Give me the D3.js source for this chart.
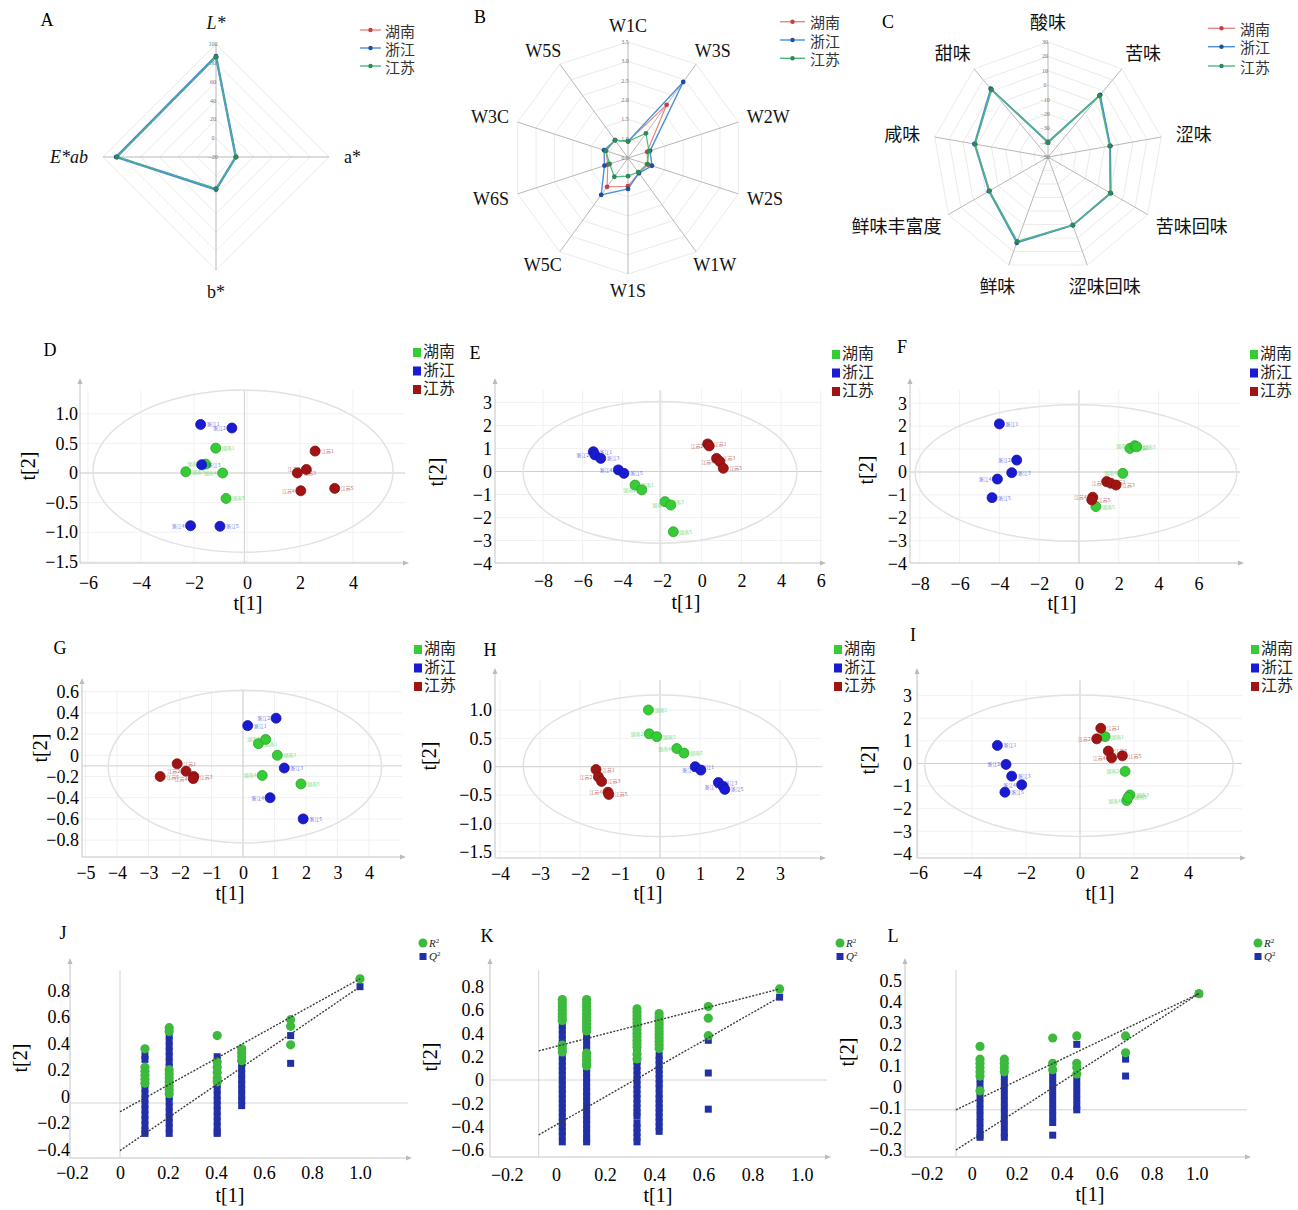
<!DOCTYPE html>
<html>
<head>
<meta charset="utf-8">
<script src="https://cdn.jsdelivr.net/npm/d3@7"></script>
<style>
  body { margin: 0; background: #fff; }
  svg text { font-family: "Liberation Serif", "Times New Roman", serif; }
</style>
</head>
<body>
<svg id="fig" width="1298" height="1210"></svg>
<script>
// ---------- data ----------
const regions = ["湖南", "浙江", "江苏"];

// A: colour values (clockwise from top)
const colorAxes = ["L*", "a*", "b*", "E*ab"];
const colorTicks = [-20, 0, 20, 40, 60, 80, 100];
const colorHunan = [86, 1.5, 14, 85];
const colorZhejiang = [87, 1, 14.5, 86];
const colorJiangsu = [86, 1.2, 13.5, 85];

// B: electronic nose sensors
const noseAxes = ["W1C", "W3S", "W2W", "W2S", "W1W", "W1S", "W5C", "W6S", "W3C", "W5S"];
const noseTicks = [0.5, 1.0, 1.5, 2.0, 2.5, 3.0, 3.5];
const noseHunan = [0.93, 2.2, 1.02, 1.05, 0.98, 1.23, 1.42, 1.05, 1.1, 1.07];
const noseZhejiang = [0.93, 2.93, 1.1, 1.15, 0.98, 1.3, 1.68, 1.14, 1.15, 1.07];
const noseJiangsu = [0.93, 1.29, 1.07, 1.02, 0.95, 0.97, 1.1, 1.0, 1.1, 1.07];

// C: electronic tongue
const tasteAxes = ["酸味", "苦味", "涩味", "苦味回味", "涩味回味", "鲜味", "鲜味丰富度", "咸味", "甜味"];
const tasteTicks = [-50, -40, -30, -20, -10, 0, 10, 20, 30];
const tasteHunan = [-40, 6, -6, 0, 0.5, 13, -3, 1.5, 11.5];
const tasteZhejiang = [-39.5, 6.5, -6, 0.5, 0.6, 13.5, -2.5, 2, 12];
const tasteJiangsu = [-40, 5.5, -6.5, 0, 0.3, 12.5, -3, 1.5, 11];

// D-I: score plots [t1, t2]
const dHunan = [[-1.18, 0.42], [-1.56, 0.15], [-2.31, 0.02], [-0.92, 0.0], [-0.79, -0.43]];
const dZhejiang = [[-1.75, 0.82], [-0.57, 0.76], [-1.71, 0.14], [-2.13, -0.89], [-1.02, -0.9]];
const dJiangsu = [[2.57, 0.37], [2.24, 0.06], [1.9, 0.0], [2.03, -0.3], [3.31, -0.26]];

const eHunan = [[-3.36, -0.59], [-3.02, -0.8], [-1.85, -1.31], [-1.56, -1.46], [-1.43, -2.62]];
const eZhejiang = [[-5.46, 0.86], [-5.38, 0.72], [-5.09, 0.57], [-4.2, 0.07], [-3.92, -0.08]];
const eJiangsu = [[0.3, 1.2], [0.38, 1.11], [0.75, 0.57], [0.92, 0.43], [1.09, 0.14]];

const fHunan = [[2.56, 1.03], [2.8, 1.15], [2.9, 1.1], [2.2, -0.06], [0.85, -1.51]];
const fZhejiang = [[-4.0, 2.1], [-3.13, 0.52], [-3.38, -0.03], [-4.1, -0.31], [-4.37, -1.12]];
const fJiangsu = [[1.39, -0.42], [1.59, -0.49], [1.86, -0.57], [0.69, -1.1], [0.64, -1.22]];

const gHunan = [[0.49, 0.11], [0.72, 0.15], [1.09, 0.0], [0.61, -0.19], [1.84, -0.27]];
const gZhejiang = [[0.15, 0.28], [1.05, 0.35], [1.31, -0.12], [0.86, -0.4], [1.91, -0.6]];
const gJiangsu = [[-2.09, -0.08], [-1.81, -0.15], [-1.56, -0.2], [-1.58, -0.22], [-2.63, -0.2]];

const hHunan = [[-0.29, 1.0], [-0.27, 0.58], [-0.08, 0.53], [0.42, 0.32], [0.6, 0.24]];
const hZhejiang = [[0.88, 0.0], [1.02, -0.06], [1.46, -0.28], [1.58, -0.35], [1.62, -0.4]];
const hJiangsu = [[-1.6, -0.05], [-1.54, -0.18], [-1.46, -0.26], [-1.3, -0.45], [-1.28, -0.49]];

const iHunan = [[0.93, 1.19], [1.67, -0.35], [1.85, -1.39], [1.73, -1.64], [1.78, -1.5]];
const iZhejiang = [[-3.06, 0.8], [-2.74, -0.04], [-2.53, -0.56], [-2.16, -0.94], [-2.78, -1.27]];
const iJiangsu = [[0.77, 1.56], [0.62, 1.09], [1.05, 0.55], [1.17, 0.25], [1.57, 0.34]];

const ticks8to6 = [-8, -6, -4, -2, 0, 2, 4, 6];
const ticks3toM4 = [3, 2, 1, 0, -1, -2, -3, -4];
const ticksHalf = [1.0, 0.5, 0, -0.5, -1.0, -1.5];

// J-L: permutation tests
const permXTicks = [-0.2, 0, 0.2, 0.4, 0.6, 0.8, 1.0];

const jX = [0.104, 0.205, 0.405, 0.507, 0.711, 1.0];
const jR2 = [[0.36, 0.22, 0.19, 0.16, 0.13, 0.1], [0.52, 0.49, 0.2, 0.17, 0.14, 0.11, 0.08, 0.05, 0.02],
  [0.46, 0.26, 0.22, 0.18, 0.14, 0.11], [0.36, 0.33, 0.3, 0.27], [0.58, 0.53, 0.39], [0.89]];
const jQ2 = [[0.31, 0.28, 0.2, 0.17, 0.14, 0.1, 0.06, 0.02, -0.02, -0.06, -0.1, -0.14, -0.18, -0.22, -0.26, -0.28],
  [0.46, 0.42, 0.38, 0.34, 0.3, 0.26, 0.22, 0.18, 0.1, 0.04, 0, -0.04, -0.08, -0.12, -0.16, -0.2, -0.24, -0.28],
  [0.3, 0.27, 0.24, 0.09, 0.05, 0.01, -0.03, -0.07, -0.11, -0.15, -0.19, -0.23, -0.27, -0.28],
  [0.25, 0.21, 0.17, 0.13, 0.09, 0.05, 0.01, -0.03, -0.07], [0.46, 0.25], [0.83]];
const jR2Line = [[0, -0.116], [1.0, 0.89]];
const jQ2Line = [[0, -0.41], [1.0, 0.83]];
const jYTicks = [0.8, 0.6, 0.4, 0.2, 0, -0.2, -0.4];

const kX = [0.026, 0.125, 0.33, 0.42, 0.62, 0.91];
const kR2 = [[0.69, 0.66, 0.63, 0.6, 0.57, 0.54, 0.51, 0.3, 0.27, 0.24],
  [0.69, 0.66, 0.63, 0.6, 0.57, 0.54, 0.51, 0.48, 0.45, 0.42, 0.23, 0.2, 0.17, 0.14, 0.12],
  [0.61, 0.58, 0.55, 0.52, 0.49, 0.46, 0.43, 0.4, 0.37, 0.34, 0.31, 0.28, 0.22, 0.18],
  [0.57, 0.54, 0.51, 0.48, 0.45, 0.42, 0.39, 0.36, 0.33, 0.3, 0.27], [0.63, 0.53, 0.38], [0.78]];
const kQ2 = [[0.47, 0.43, 0.39, 0.35, 0.31, 0.2, 0.16, 0.12, 0.08, 0.04, 0, -0.04, -0.08, -0.12, -0.16, -0.2, -0.24, -0.28, -0.32, -0.36, -0.4, -0.44, -0.48, -0.53],
  [0.38, 0.34, 0.3, 0.26, 0.1, 0.06, 0.02, -0.02, -0.06, -0.1, -0.14, -0.18, -0.22, -0.26, -0.3, -0.34, -0.38, -0.42, -0.46, -0.5, -0.53],
  [0.28, 0.25, 0.16, 0.12, 0.08, 0.04, 0, -0.04, -0.08, -0.12, -0.16, -0.2, -0.24, -0.28, -0.31, -0.37, -0.41, -0.45, -0.49, -0.53],
  [0.21, 0.17, 0.13, 0.09, 0.05, 0.01, -0.03, -0.07, -0.12, -0.16, -0.2, -0.24, -0.28, -0.32, -0.36, -0.4, -0.44],
  [0.34, 0.06, -0.25], [0.71]];
const kR2Line = [[-0.07, 0.25], [0.91, 0.78]];
const kQ2Line = [[-0.07, -0.47], [0.91, 0.71]];
const kYTicks = [0.8, 0.6, 0.4, 0.2, 0, -0.2, -0.4, -0.6];

const lX = [0.037, 0.145, 0.36, 0.467, 0.684, 1.01];
const lR2 = [[0.19, 0.13, 0.11, 0.09, 0.07, 0.05, -0.02], [0.13, 0.11, 0.09, 0.07], [0.23, 0.11, 0.08],
  [0.24, 0.11, 0.09, 0.06], [0.24, 0.16], [0.44]];
const lQ2 = [[0.04, 0.01, -0.02, -0.05, -0.08, -0.11, -0.14, -0.17, -0.2, -0.23, -0.24],
  [0.05, 0.02, -0.01, -0.04, -0.07, -0.1, -0.13, -0.16, -0.19, -0.22, -0.24],
  [0.07, 0.04, 0.01, -0.02, -0.05, -0.08, -0.11, -0.14, -0.17, -0.23],
  [0.2, 0.03, 0, -0.03, -0.06, -0.09, -0.11], [0.13, 0.05], [0.44]];
const lR2Line = [[-0.07, -0.11], [1.01, 0.44]];
const lQ2Line = [[-0.07, -0.3], [1.01, 0.44]];
const lYTicks = [0.5, 0.4, 0.3, 0.2, 0.1, 0, -0.1, -0.2, -0.3];

// ---------- drawing ----------
const CJK = "'Noto Sans CJK SC','Noto Sans CJK JP',sans-serif";
const svg = d3.select("#fig");

const radarLine = ["#e88484", "#4a8fd8", "#4cb87e"];
const radarDot = ["#c73f3f", "#1f4f9c", "#2c8a55"];
const pcaColor = ["#35cc35", "#1a1ad2", "#a11414"];

const fmt1 = d => d === 0 ? "0" : d3.format(".1f")(d);
const fmtInt = d => d3.format("d")(d);

function letter(t, x, y) {
  svg.append("text").attr("x", x).attr("y", y).attr("text-anchor", "middle")
    .attr("dominant-baseline", "central").attr("font-size", 18).text(t);
}

function radar(c) {
  const g = svg.append("g");
  const n = c.axes.length;
  const r = d3.scaleLinear().domain([c.ticks[0], c.ticks[c.ticks.length - 1]]).range([0, c.R]);
  const ang = i => i * 2 * Math.PI / n;
  const pt = (v, i) => [c.cx + r(v) * Math.sin(ang(i)), c.cy - r(v) * Math.cos(ang(i))];
  const top = c.ticks[c.ticks.length - 1];

  c.ticks.slice(1).forEach(t => {
    g.append("polygon").attr("points", d3.range(n).map(i => pt(t, i).join(",")).join(" "))
      .attr("fill", "none").attr("stroke", "#ebebeb");
  });
  d3.range(n).forEach(i => {
    const p = pt(top, i);
    g.append("line").attr("x1", c.cx).attr("y1", c.cy).attr("x2", p[0]).attr("y2", p[1])
      .attr("stroke", "#b8b8b8").attr("stroke-width", 1);
  });
  g.selectAll(".tk").data(c.ticks).join("text")
    .attr("x", c.cx - 3).attr("y", d => c.cy - r(d))
    .attr("font-size", 6).attr("fill", "#777").attr("text-anchor", "middle")
    .attr("dominant-baseline", "central").text(c.tickFmt);

  const line = d3.line().curve(d3.curveLinearClosed);
  c.series.forEach((s, k) => {
    g.append("path").attr("d", line(s.map((v, i) => pt(v, i))))
      .attr("fill", "none").attr("stroke", radarLine[k])
      .attr("stroke-width", c.widths[k]).attr("stroke-dasharray", c.dash[k]);
    g.selectAll(null).data(s).join("circle")
      .attr("cx", (v, i) => pt(v, i)[0]).attr("cy", (v, i) => pt(v, i)[1])
      .attr("r", 2.4).attr("fill", radarDot[k]);
  });

  c.axes.forEach((lab, i) => {
    const sx = Math.sin(ang(i)), sy = -Math.cos(ang(i));
    const t = g.append("text").attr("text-anchor", "middle").attr("dominant-baseline", "central")
      .attr("font-size", 18).attr("fill", "#111")
      .style("font-family", c.cjk ? CJK : null)
      .attr("font-style", c.italic && c.italic[i] ? "italic" : null).text(lab);
    const w = t.node().getComputedTextLength(), h = 13;
    t.attr("x", c.cx + sx * (c.labelR + w / 2)).attr("y", c.cy + sy * (c.labelR + h / 2));
  });

  regions.forEach((name, k) => {
    const y = c.leg.y[k];
    g.append("line").attr("x1", c.leg.x1).attr("x2", c.leg.x2).attr("y1", y).attr("y2", y)
      .attr("stroke", radarLine[k]).attr("stroke-width", 1.4);
    g.append("circle").attr("cx", (c.leg.x1 + c.leg.x2) / 2).attr("cy", y).attr("r", 2.2).attr("fill", radarDot[k]);
    g.append("text").attr("x", c.leg.tx).attr("y", y).attr("dominant-baseline", "central")
      .style("font-family", CJK).attr("font-size", 15).attr("fill", "#333").text(name);
  });
  letter(c.letter, c.letterPos[0], c.letterPos[1]);
}

function frameAxes(g, c) {
  const [L, T, R, B] = c.frame;
  g.append("line").attr("x1", L).attr("x2", L).attr("y1", T - 8).attr("y2", B).attr("stroke", "#c4c4c4");
  g.append("line").attr("x1", L).attr("x2", R).attr("y1", B).attr("y2", B).attr("stroke", "#c4c4c4");
  g.append("path").attr("d", `M${L},${T - 12}l-2.5,6h5z`).attr("fill", "#bbb");
  g.append("path").attr("d", `M${R + 4},${B}l-6,-2.5v5z`).attr("fill", "#bbb");
}

function scales(c) {
  const x = d3.scaleLinear().domain([0, 1]).range([c.x0, c.x0 + c.kx]);
  const y = d3.scaleLinear().domain([0, 1]).range([c.y0, c.y0 - c.ky]);
  return [x, y];
}

function tickAxes(g, c, x, y) {
  g.append("g").attr("transform", `translate(${c.yLabelRight},0)`)
    .call(d3.axisLeft(y).tickValues(c.yt).tickFormat(c.fmtY).tickSize(0).tickPadding(0))
    .call(a => a.select(".domain").remove())
    .attr("font-size", 18);
  g.append("g").attr("transform", `translate(0,${c.xLabelY - 7})`)
    .call(d3.axisBottom(x).tickValues(c.xt).tickFormat(c.fmtX).tickSize(0).tickPadding(0))
    .call(a => a.select(".domain").remove())
    .attr("font-size", 18);
  g.append("text").attr("x", c.t1[0]).attr("y", c.t1[1]).attr("text-anchor", "middle")
    .attr("dominant-baseline", "central").attr("font-size", 20).text("t[1]");
  g.append("text").attr("transform", `translate(${c.t2[0]},${c.t2[1]}) rotate(-90)`)
    .attr("text-anchor", "middle").attr("dominant-baseline", "central").attr("font-size", 20).text("t[2]");
  letter(c.letter, c.letterPos[0], c.letterPos[1]);
}

function scorePlot(c, groups) {
  const g = svg.append("g");
  const [x, y] = scales(c);
  const [L, T, R, B] = c.frame;
  g.selectAll(".gx").data(c.xt.filter(d => x(d) > L && x(d) < R)).join("line")
    .attr("x1", d => x(d)).attr("x2", d => x(d)).attr("y1", T).attr("y2", B).attr("stroke", "#f1f1f1");
  g.selectAll(".gy").data(c.yt.filter(d => y(d) > T && y(d) < B)).join("line")
    .attr("x1", L).attr("x2", R).attr("y1", d => y(d)).attr("y2", d => y(d)).attr("stroke", "#f1f1f1");
  frameAxes(g, c);
  g.append("line").attr("x1", x(c.origin[0])).attr("x2", x(c.origin[0])).attr("y1", T).attr("y2", B).attr("stroke", "#cfcfcf");
  g.append("line").attr("x1", L).attr("x2", R).attr("y1", y(c.origin[1])).attr("y2", y(c.origin[1])).attr("stroke", "#cfcfcf");
  const e = c.ellipse;
  g.append("ellipse").attr("cx", x(e[0])).attr("cy", y(e[1]))
    .attr("rx", x(e[2]) - x(0)).attr("ry", y(0) - y(e[3]))
    .attr("fill", "none").attr("stroke", "#e2e2e2").attr("stroke-width", 1.5);

  groups.forEach((pts, k) => {
    // tiny sample labels, alternating sides as in the original
    g.selectAll(null).data(pts).join("text")
      .attr("x", (d, i) => x(d[0]) + (i % 2 ? -6 : 6)).attr("y", d => y(d[1]) + 2)
      .attr("text-anchor", (d, i) => i % 2 ? "end" : "start")
      .attr("font-size", 5).style("font-family", CJK).attr("fill", pcaColor[k]).attr("opacity", 0.65)
      .text((d, i) => regions[k] + (i + 1));
    g.selectAll(null).data(pts).join("circle")
      .attr("cx", d => x(d[0])).attr("cy", d => y(d[1])).attr("r", 5)
      .attr("fill", pcaColor[k]).attr("stroke", d3.color(pcaColor[k]).darker(0.6)).attr("stroke-width", 0.8);
  });

  regions.forEach((name, k) => {
    const yy = c.leg[1] + k * 18.5;
    g.append("rect").attr("x", c.leg[0]).attr("y", yy - 2).attr("width", 8).attr("height", 9).attr("fill", pcaColor[k]);
    g.append("text").attr("x", c.leg[0] + 10).attr("y", yy).attr("dominant-baseline", "central")
      .style("font-family", CJK).attr("font-size", 16).attr("fill", "#222").text(name);
  });
  tickAxes(g, c, x, y);
}

function permPlot(c, xs, r2, q2, r2Line, q2Line) {
  const g = svg.append("g");
  const [x, y] = scales(c);
  const [L, T, R, B] = c.frame;
  frameAxes(g, c);
  g.append("line").attr("x1", x(c.origin[0])).attr("x2", x(c.origin[0])).attr("y1", T).attr("y2", B).attr("stroke", "#d4d4d4");
  g.append("line").attr("x1", L).attr("x2", R).attr("y1", y(c.origin[1])).attr("y2", y(c.origin[1])).attr("stroke", "#d4d4d4");

  const sq = 7;
  xs.forEach((xv, i) => {
    g.selectAll(null).data(q2[i]).join("rect")
      .attr("x", x(xv) - sq / 2).attr("y", d => y(d) - sq / 2).attr("width", sq).attr("height", sq)
      .attr("fill", "#2230a8");
    g.selectAll(null).data(r2[i]).join("circle")
      .attr("cx", x(xv)).attr("cy", d => y(d)).attr("r", 4.6).attr("fill", "#3dba3d");
  });
  const line = d3.line().x(d => x(d[0])).y(d => y(d[1]));
  [r2Line, q2Line].forEach(l => {
    g.append("path").attr("d", line(l)).attr("fill", "none").attr("stroke", "#3a3a3a")
      .attr("stroke-width", 1.4).attr("stroke-dasharray", "2,1.5");
  });

  g.append("circle").attr("cx", c.leg[0]).attr("cy", c.leg[1]).attr("r", 4.5).attr("fill", "#3dba3d");
  g.append("rect").attr("x", c.leg[0] - 3.5).attr("y", c.leg[1] + 10).attr("width", 7).attr("height", 7).attr("fill", "#2230a8");
  [["R", 0], ["Q", 13]].forEach(([s, dy]) => {
    const t = g.append("text").attr("x", c.leg[0] + 6).attr("y", c.leg[1] + dy + 4)
      .attr("font-size", 11).attr("font-style", "italic").attr("fill", "#222").text(s);
    t.append("tspan").attr("font-size", 7).attr("font-style", "normal").attr("dy", -4).text("2");
  });
  tickAxes(g, c, x, y);
}

// ---------- panels ----------
radar({ letter: "A", letterPos: [47, 20], cx: 216, cy: 157, R: 113, axes: colorAxes, ticks: colorTicks,
  tickFmt: fmtInt, series: [colorHunan, colorZhejiang, colorJiangsu], widths: [1.2, 2.4, 1.5],
  dash: [null, null, "4,2"], labelR: 128, italic: [true, false, false, true],
  leg: { x1: 360, x2: 381, tx: 385, y: [30, 48, 66] } });

radar({ letter: "B", letterPos: [480, 17], cx: 628, cy: 158, R: 116, axes: noseAxes, ticks: noseTicks,
  tickFmt: d3.format(".1f"), series: [noseHunan, noseZhejiang, noseJiangsu], widths: [1.2, 1.4, 1.2],
  dash: [null, null, null], labelR: 126,
  leg: { x1: 780, x2: 805, tx: 810, y: [21.7, 40, 58.3] } });

radar({ letter: "C", letterPos: [888, 22], cx: 1048, cy: 157, R: 115, axes: tasteAxes, ticks: tasteTicks,
  tickFmt: fmtInt, series: [tasteHunan, tasteZhejiang, tasteJiangsu], widths: [1.4, 1.6, 1.4],
  dash: [null, null, null], labelR: 130, cjk: true,
  leg: { x1: 1208, x2: 1235, tx: 1240, y: [28.3, 46.7, 66] } });

scorePlot({ letter: "D", letterPos: [50, 350], frame: [80, 390, 405, 563],
  x0: 247, kx: 26.5, y0: 473, ky: 59.2, yLabelRight: 78, xLabelY: 583,
  xt: [-6, -4, -2, 0, 2, 4], yt: ticksHalf, fmtX: fmtInt, fmtY: fmt1,
  origin: [-0.1, 0], ellipse: [-0.15, 0.03, 5.66, 1.37], leg: [413, 350], t1: [248, 603], t2: [28, 466] },
  [dHunan, dZhejiang, dJiangsu]);

scorePlot({ letter: "E", letterPos: [475, 353], frame: [495, 390, 822, 563],
  x0: 701.7, kx: 19.84, y0: 471.5, ky: 23, yLabelRight: 492, xLabelY: 581,
  xt: ticks8to6, yt: ticks3toM4, fmtX: fmtInt, fmtY: fmtInt,
  origin: [-2.1, 0], ellipse: [-2.1, -0.04, 6.9, 3.08], leg: [832, 352], t1: [686, 602], t2: [436, 472] },
  [eHunan, eZhejiang, eJiangsu]);

scorePlot({ letter: "F", letterPos: [902, 347], frame: [910, 390, 1240, 563],
  x0: 1079, kx: 19.9, y0: 472, ky: 22.9, yLabelRight: 907, xLabelY: 584,
  xt: ticks8to6, yt: ticks3toM4, fmtX: fmtInt, fmtY: fmtInt,
  origin: [0, 0], ellipse: [-0.15, -0.04, 8.08, 2.98], leg: [1250, 352], t1: [1062, 603], t2: [866, 470] },
  [fHunan, fZhejiang, fJiangsu]);

scorePlot({ letter: "G", letterPos: [60, 648], frame: [82, 690, 402, 857],
  x0: 243, kx: 31.5, y0: 755.3, ky: 106, yLabelRight: 79, xLabelY: 873,
  xt: [-5, -4, -3, -2, -1, 0, 1, 2, 3, 4], yt: [0.6, 0.4, 0.2, 0, -0.2, -0.4, -0.6, -0.8], fmtX: fmtInt, fmtY: fmt1,
  origin: [0, -0.1], ellipse: [0.06, -0.107, 4.34, 0.72], leg: [414, 647], t1: [230, 893], t2: [40, 748] },
  [gHunan, gZhejiang, gJiangsu]);

scorePlot({ letter: "H", letterPos: [490, 650], frame: [495, 680, 822, 858],
  x0: 660, kx: 40, y0: 766.7, ky: 56.7, yLabelRight: 492, xLabelY: 874,
  xt: [-4, -3, -2, -1, 0, 1, 2, 3], yt: ticksHalf, fmtX: fmtInt, fmtY: fmt1,
  origin: [0, 0], ellipse: [0, 0.016, 3.42, 1.25], leg: [834, 647], t1: [648, 893], t2: [429, 756] },
  [hHunan, hZhejiang, hJiangsu]);

scorePlot({ letter: "I", letterPos: [913, 635], frame: [917, 680, 1242, 858],
  x0: 1080, kx: 27, y0: 763.5, ky: 22.6, yLabelRight: 912, xLabelY: 873,
  xt: [-6, -4, -2, 0, 2, 4], yt: ticks3toM4, fmtX: fmtInt, fmtY: fmtInt,
  origin: [0, 0], ellipse: [-0.04, -0.1, 5.71, 3.13], leg: [1251, 647], t1: [1100, 893], t2: [868, 760] },
  [iHunan, iZhejiang, iJiangsu]);

permPlot({ letter: "J", letterPos: [63, 933], frame: [70, 970, 408, 1158],
  x0: 120, kx: 240, y0: 1096.4, ky: 132.2, yLabelRight: 70, xLabelY: 1173,
  xt: permXTicks, yt: jYTicks, fmtX: fmt1, fmtY: fmt1, origin: [0, -0.05],
  leg: [423, 943], t1: [230, 1195], t2: [20, 1058] }, jX, jR2, jQ2, jR2Line, jQ2Line);

permPlot({ letter: "K", letterPos: [487, 936], frame: [490, 970, 827, 1157],
  x0: 555.9, kx: 245.8, y0: 1080, ky: 116.7, yLabelRight: 484, xLabelY: 1175,
  xt: permXTicks, yt: kYTicks, fmtX: fmt1, fmtY: fmt1, origin: [-0.07, 0],
  leg: [840, 943], t1: [658, 1195], t2: [430, 1057] }, kX, kR2, kQ2, kR2Line, kQ2Line);

permPlot({ letter: "L", letterPos: [893, 936], frame: [905, 970, 1247, 1157],
  x0: 971.7, kx: 225, y0: 1086.6, ky: 211.25, yLabelRight: 902, xLabelY: 1174,
  xt: permXTicks, yt: lYTicks, fmtX: fmt1, fmtY: fmt1, origin: [-0.07, -0.11],
  leg: [1258, 943], t1: [1090, 1194], t2: [847, 1052] }, lX, lR2, lQ2, lR2Line, lQ2Line);
</script>
</body>
</html>
